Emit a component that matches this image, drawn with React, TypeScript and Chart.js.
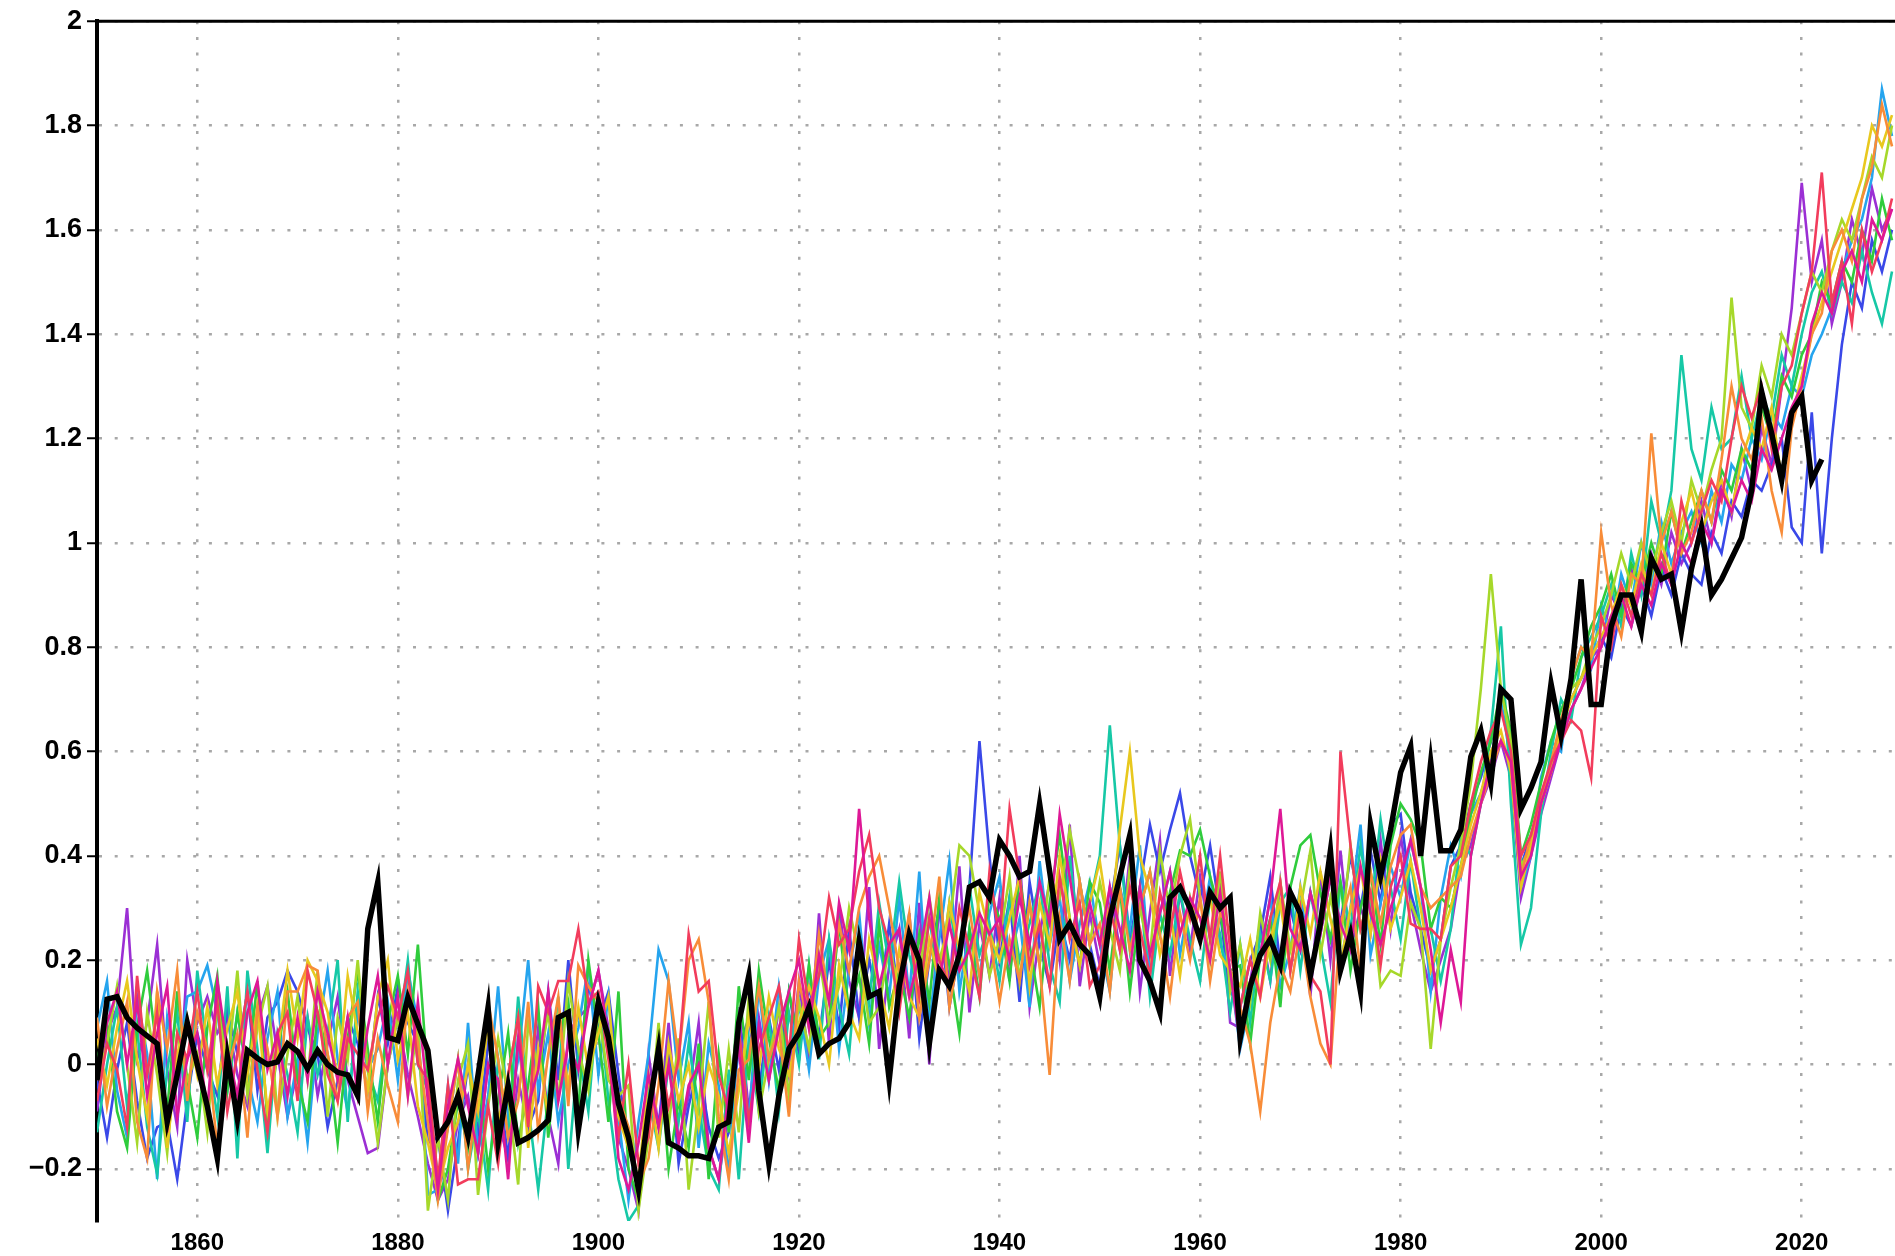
import React, { useEffect, useRef } from "react";
import { Chart, registerables } from "chart.js";

Chart.register(...registerables);

const startYear = 1850;

const xTicks = [1860, 1880, 1900, 1920, 1940, 1960, 1980, 2000, 2020];
const xTickLabels = ["1860", "1880", "1900", "1920", "1940", "1960", "1980", "2000", "2020"];
const yTicks = [-0.2, 0, 0.2, 0.4, 0.6, 0.8, 1, 1.2, 1.4, 1.6, 1.8, 2];
const yTickLabels = ["\u22120.2", "0", "0.2", "0.4", "0.6", "0.8", "1", "1.2", "1.4", "1.6", "1.8", "2"];

// observations 1850-2022
const observed = [
  -0.03, 0.125, 0.13, 0.09, 0.07, 0.055, 0.04, -0.11, -0.02, 0.08,
  0.0, -0.08, -0.18, 0.015, -0.105, 0.027, 0.012, 0.0, 0.005, 0.04,
  0.025, -0.008, 0.027, 0.0, -0.015, -0.02, -0.06, 0.26, 0.35, 0.052,
  0.046, 0.128, 0.077, 0.027, -0.138, -0.11, -0.06, -0.138, -0.02, 0.11,
  -0.15, -0.04, -0.15, -0.14, -0.126, -0.107, 0.09, 0.1, -0.126, 0.0,
  0.12, 0.052, -0.075, -0.14, -0.24, -0.09, 0.03, -0.15, -0.16, -0.175,
  -0.175, -0.18, -0.12, -0.11, 0.08, 0.17, -0.05, -0.19, -0.06, 0.03,
  0.06, 0.11, 0.02, 0.04, 0.05, 0.08, 0.235, 0.13, 0.14, -0.03,
  0.15, 0.25, 0.2, 0.04, 0.18, 0.15, 0.21, 0.34, 0.35, 0.32,
  0.43, 0.4, 0.36, 0.37, 0.5, 0.37, 0.24, 0.27, 0.23, 0.21,
  0.13, 0.28, 0.36, 0.44, 0.2, 0.16, 0.1, 0.32, 0.34, 0.3,
  0.24, 0.33, 0.3, 0.32, 0.05, 0.15, 0.21, 0.24, 0.19, 0.33,
  0.29, 0.17, 0.27, 0.41, 0.18, 0.25, 0.14, 0.46, 0.36, 0.45,
  0.56, 0.61, 0.4, 0.58, 0.41, 0.41, 0.45, 0.59, 0.64, 0.54,
  0.72, 0.7, 0.49, 0.53, 0.58, 0.73, 0.63, 0.74, 0.93, 0.69,
  0.69, 0.84, 0.9, 0.9, 0.83, 0.97, 0.93, 0.94, 0.83, 0.95,
  1.03, 0.9, 0.93, 0.97, 1.01, 1.1, 1.29, 1.21, 1.12, 1.25,
  1.28, 1.12, 1.16,
];

// ensemble members 1850-2029
const memberPurple = [
  -0.09, 0.06, 0.11, 0.3, 0.01, 0.08, 0.23, -0.01, -0.12, 0.2,
  0.08, 0.13, 0.06, 0.09, -0.02, -0.08, 0.09, 0.15, 0.02, -0.1,
  -0.01, 0.09, -0.06, 0.04, 0.13, -0.03, -0.1, -0.17, -0.16, 0.0,
  0.09, -0.02, -0.1, -0.19, -0.26, -0.22, -0.11, -0.06, -0.17, 0.0,
  -0.11, -0.18, -0.03, -0.12, 0.07, -0.1, -0.19, 0.06, 0.09, 0.11,
  0.18, 0.07, -0.14, -0.2, -0.28, 0.02, -0.12, 0.08, -0.15, -0.06,
  0.08, -0.16, -0.22, -0.09, 0.11, -0.09, 0.09, -0.03, 0.11, -0.02,
  0.16, 0.01, 0.29, 0.04, 0.3, 0.16, 0.09, 0.34, 0.03, 0.19,
  0.26, 0.05, 0.31, 0.0, 0.32, 0.15, 0.38, 0.1, 0.27, 0.17,
  0.32, 0.16, 0.4, 0.11, 0.25, 0.35, 0.2, 0.46, 0.15, 0.29,
  0.19, 0.34, 0.22, 0.4, 0.14, 0.29, 0.43, 0.17, 0.33, 0.22,
  0.36, 0.24, 0.33, 0.08, 0.07, 0.16, 0.27, 0.16, 0.35, 0.18,
  0.3, 0.13, 0.37, 0.2, 0.41, 0.22, 0.3, 0.25, 0.43, 0.26,
  0.44, 0.31, 0.22, 0.14, 0.2, 0.26, 0.38, 0.42, 0.5, 0.55,
  0.62, 0.55, 0.32, 0.4, 0.48, 0.55, 0.62, 0.68, 0.72, 0.78,
  0.8, 0.9, 0.86, 0.95, 0.9, 0.98, 0.92, 1.02, 0.96, 1.0,
  1.08, 1.0, 1.12, 1.05, 1.18, 1.1, 1.22, 1.15, 1.3, 1.45,
  1.69, 1.5, 1.58, 1.42, 1.5, 1.62, 1.55, 1.68, 1.6, 1.64,
];
const memberBlue = [
  -0.03, -0.14, -0.01, 0.08, -0.07, -0.18, -0.12, -0.11, -0.22, -0.07,
  0.06, -0.01, -0.06, 0.11, 0.02, 0.14, -0.05, 0.09, 0.12, 0.18,
  0.14, 0.07, 0.02, -0.12, -0.03, 0.09, 0.04, -0.05, 0.13, 0.04,
  0.15, 0.08, 0.04, -0.15, -0.14, -0.28, -0.15, 0.0, -0.13, 0.04,
  -0.03, -0.18, 0.05, -0.12, -0.07, 0.14, -0.03, 0.2, -0.01, 0.15,
  0.08, 0.14, -0.02, -0.16, -0.23, -0.04, -0.12, 0.04, -0.19, -0.08,
  0.0, -0.12, -0.18, -0.13, 0.03, 0.09, -0.05, 0.09, -0.01, 0.14,
  0.02, 0.15, 0.05, 0.2, 0.07, 0.26, 0.09, 0.2, 0.11, 0.27,
  0.12, 0.29, 0.05, 0.2, 0.3, 0.11, 0.22, 0.34, 0.62, 0.4,
  0.2, 0.32, 0.12, 0.35, 0.23, 0.15, 0.28, 0.2, 0.35, 0.23,
  0.15, 0.3, 0.42, 0.24, 0.34, 0.46, 0.37, 0.45, 0.52, 0.4,
  0.32, 0.42, 0.29, 0.14, 0.11, 0.2, 0.25, 0.36, 0.19, 0.3,
  0.22, 0.33, 0.25, 0.36, 0.27, 0.4, 0.3, 0.41, 0.31, 0.46,
  0.48, 0.33, 0.26, 0.18, 0.24, 0.38, 0.42, 0.5, 0.55, 0.62,
  0.68, 0.62, 0.38, 0.44, 0.5, 0.58, 0.65, 0.7, 0.74, 0.78,
  0.82, 0.78, 0.88, 0.84, 0.92, 0.86, 0.95, 0.9, 0.98, 0.94,
  0.92, 1.02, 0.98, 1.08, 1.05, 1.12, 1.1, 1.15, 1.2, 1.03,
  1.0, 1.25, 0.98, 1.2, 1.38, 1.5, 1.45, 1.58, 1.52, 1.6,
];
const memberSky = [
  0.07, 0.16, -0.05, -0.14, 0.13, 0.02, -0.22, 0.09, -0.02, 0.13,
  0.14, 0.19, 0.1, -0.05, 0.1, -0.02, -0.11, 0.05, 0.14, -0.1,
  0.01, -0.15, 0.06, 0.18, 0.01, -0.09, 0.1, -0.01, 0.03, 0.12,
  -0.03, 0.18, 0.08, -0.25, -0.24, -0.04, -0.19, 0.08, -0.17, -0.06,
  0.15, -0.1, 0.01, 0.2, -0.05, 0.06, -0.11, 0.0, 0.07, 0.19,
  -0.02, 0.13, -0.1, -0.26, -0.11, 0.02, 0.22, 0.16, -0.03, 0.08,
  -0.16, 0.04, -0.04, -0.21, 0.07, -0.11, 0.15, -0.03, 0.15, 0.02,
  0.12, -0.01, 0.17, 0.24, 0.03, 0.18, 0.29, 0.08, 0.23, 0.13,
  0.32, 0.13, 0.37, 0.08, 0.24, 0.39, 0.14, 0.26, 0.17, 0.29,
  0.36, 0.2, 0.28, 0.11, 0.39, 0.23, 0.32, 0.16, 0.27, 0.35,
  0.23, 0.14, 0.34, 0.26, 0.42, 0.17, 0.29, 0.37, 0.21, 0.32,
  0.24, 0.36, 0.23, 0.18, 0.03, 0.12, 0.21, 0.32, 0.15, 0.22,
  0.34, 0.17, 0.29, 0.4, 0.19, 0.3, 0.46, 0.21, 0.31, 0.38,
  0.32, 0.43, 0.34, 0.14, 0.32, 0.42, 0.36, 0.48, 0.52, 0.58,
  0.7, 0.58, 0.34, 0.4, 0.55, 0.62, 0.6, 0.74, 0.8, 0.76,
  0.88, 0.82, 0.94, 0.88, 1.0, 0.92, 1.04, 0.96, 1.02, 1.06,
  1.0, 1.1, 1.04, 1.15, 1.12, 1.2, 1.16, 1.25, 1.22, 1.3,
  1.28, 1.36, 1.4, 1.45, 1.52, 1.58, 1.62, 1.7, 1.87, 1.78,
];
const memberTurquoise = [
  -0.13, 0.0, 0.11, -0.08, 0.07, -0.12, -0.21, -0.01, 0.1, -0.11,
  0.18, 0.03, -0.1, 0.15, -0.18, 0.18, 0.03, -0.17, 0.06, -0.02,
  -0.13, 0.09, -0.02, 0.06, 0.2, -0.11, 0.14, -0.01, -0.07, 0.08,
  0.05, 0.2, 0.0, -0.05, -0.22, -0.12, 0.01, -0.2, -0.09, -0.24,
  0.01, -0.14, 0.13, -0.08, -0.24, -0.06, 0.13, -0.2, 0.03, -0.09,
  0.14, -0.07, -0.22, -0.3, -0.27, -0.06, -0.16, 0.0, -0.11, 0.04,
  -0.08, -0.2, -0.24, -0.01, -0.22, 0.05, -0.09, 0.09, -0.09, 0.1,
  0.0, 0.19, 0.01, 0.24, 0.11, 0.02, 0.25, 0.12, 0.31, 0.19,
  0.35, 0.21, 0.13, 0.28, 0.16, 0.31, 0.18, 0.34, 0.21, 0.27,
  0.16, 0.32, 0.2, 0.27, 0.35, 0.19, 0.12, 0.4, 0.23, 0.31,
  0.4, 0.65, 0.42, 0.22, 0.34, 0.13, 0.29, 0.21, 0.33, 0.24,
  0.16, 0.32, 0.25, 0.1, 0.23, 0.08, 0.25, 0.16, 0.31, 0.34,
  0.18, 0.33, 0.23, 0.12, 0.35, 0.26, 0.42, 0.29, 0.47, 0.34,
  0.24, 0.39, 0.26, 0.26, 0.16, 0.26, 0.44, 0.4, 0.5, 0.64,
  0.84, 0.5, 0.23, 0.3, 0.48, 0.6, 0.7, 0.66, 0.78, 0.82,
  0.86, 0.92, 0.84, 0.98, 0.9, 1.08, 1.0, 1.1, 1.36, 1.18,
  1.12, 1.26, 1.18, 1.2, 1.32, 1.2, 1.28, 1.24, 1.36, 1.3,
  1.4, 1.48, 1.52, 1.44, 1.5, 1.46, 1.56, 1.48, 1.42, 1.52,
];
const memberGreen = [
  0.01, 0.08, -0.09, -0.16, 0.07, 0.18, 0.02, -0.09, 0.14, -0.03,
  -0.14, 0.07, 0.17, -0.05, 0.1, -0.02, 0.16, -0.11, 0.02, 0.14,
  -0.03, -0.11, 0.1, 0.02, -0.15, 0.05, 0.18, 0.03, -0.11, 0.08,
  0.17, 0.02, 0.23, -0.03, -0.26, -0.2, -0.07, -0.16, -0.01, -0.2,
  -0.07, 0.06, -0.15, -0.04, 0.11, -0.14, 0.05, 0.12, -0.09, 0.2,
  0.06, -0.11, 0.14, -0.2, -0.26, -0.1, 0.04, -0.2, -0.07, -0.16,
  0.04, -0.22, 0.02, -0.13, 0.15, -0.03, 0.18, 0.05, -0.05, 0.14,
  0.04, 0.19, 0.05, 0.08, 0.27, 0.1, 0.17, 0.04, 0.27, 0.11,
  0.18, 0.09, 0.25, 0.12, 0.32, 0.19, 0.06, 0.26, 0.13, 0.33,
  0.28, 0.16, 0.36, 0.23, 0.11, 0.31, 0.44, 0.28, 0.19, 0.35,
  0.31, 0.18, 0.34, 0.14, 0.3, 0.37, 0.25, 0.33, 0.41, 0.4,
  0.45, 0.36, 0.29, 0.18, 0.19, 0.04, 0.21, 0.28, 0.11, 0.34,
  0.42, 0.44, 0.33, 0.24, 0.35, 0.18, 0.3, 0.37, 0.23, 0.42,
  0.5, 0.47, 0.42, 0.26, 0.32, 0.3, 0.38, 0.48, 0.56, 0.62,
  0.72, 0.64, 0.4, 0.46, 0.54, 0.62, 0.68, 0.72, 0.78, 0.84,
  0.88, 0.94, 0.86, 0.96, 0.92, 1.0, 0.94, 1.06, 0.98, 1.04,
  1.1, 1.04, 1.14, 1.1, 1.18, 1.14, 1.26, 1.2, 1.32, 1.28,
  1.36, 1.4, 1.5, 1.46, 1.54, 1.5, 1.6, 1.54, 1.66, 1.58,
];
const memberLime = [
  -0.03, 0.04, 0.15, 0.0, -0.15, 0.1, -0.02, -0.17, 0.06, -0.03,
  0.02, -0.13, 0.12, -0.01, 0.18, -0.06, 0.07, 0.15, -0.1, 0.02,
  0.13, -0.03, 0.18, -0.1, 0.09, 0.01, 0.2, -0.01, -0.15, 0.0,
  0.09, -0.06, 0.08, -0.28, -0.14, -0.26, -0.03, 0.04, -0.25, -0.08,
  0.05, -0.06, -0.23, 0.08, -0.01, 0.1, -0.07, 0.16, 0.03, -0.05,
  0.1, -0.03, -0.06, -0.04, -0.28, -0.14, 0.08, -0.12, 0.05, -0.24,
  -0.08, 0.12, -0.14, 0.03, -0.13, 0.13, -0.09, 0.01, 0.11, -0.06,
  0.12, 0.03, 0.21, 0.08, 0.15, 0.3, 0.21, 0.08, 0.11, 0.23,
  0.14, 0.25, 0.17, 0.32, 0.2, 0.27, 0.42, 0.4, 0.29, 0.17,
  0.24, 0.36, 0.16, 0.31, 0.19, 0.36, 0.32, 0.45, 0.35, 0.23,
  0.35, 0.26, 0.18, 0.38, 0.3, 0.21, 0.41, 0.29, 0.4, 0.47,
  0.32, 0.2, 0.37, 0.14, 0.23, 0.12, 0.29, 0.2, 0.35, 0.22,
  0.3, 0.41, 0.21, 0.32, 0.23, 0.42, 0.26, 0.33, 0.15, 0.18,
  0.17, 0.31, 0.26, 0.03, 0.24, 0.34, 0.42, 0.54, 0.72, 0.94,
  0.72, 0.62, 0.38, 0.42, 0.5, 0.56, 0.64, 0.72, 0.74, 0.8,
  0.84, 0.9, 0.98, 0.92, 1.0, 0.94, 1.02, 1.08, 1.0, 1.12,
  1.06, 1.14, 1.2, 1.47, 1.26, 1.22, 1.34, 1.28, 1.4, 1.36,
  1.44, 1.52, 1.48, 1.56, 1.62, 1.58, 1.66, 1.74, 1.7, 1.8,
];
const memberYellow = [
  0.05, -0.04, 0.07, 0.16, 0.01, -0.1, 0.14, -0.16, 0.02, 0.09,
  -0.02, 0.11, -0.04, 0.07, 0.14, -0.02, 0.11, -0.09, 0.02, 0.18,
  0.05, 0.2, 0.16, 0.1, -0.03, 0.17, 0.06, -0.05, 0.13, 0.2,
  0.01, 0.1, -0.08, -0.15, -0.24, -0.16, -0.11, 0.0, -0.09, 0.08,
  -0.11, -0.02, 0.09, -0.16, 0.03, -0.1, 0.09, -0.04, 0.11, -0.01,
  0.06, 0.13, -0.1, -0.16, -0.22, -0.02, -0.16, 0.04, -0.07, 0.0,
  -0.12, 0.0, -0.06, -0.17, -0.05, 0.09, -0.01, 0.13, 0.03, -0.02,
  0.08, 0.15, 0.09, 0.0, 0.19, 0.1, 0.05, 0.24, 0.15, 0.07,
  0.22, 0.13, 0.09, 0.24, 0.16, 0.31, 0.22, 0.14, 0.33, 0.25,
  0.2, 0.28, 0.36, 0.15, 0.31, 0.23, 0.4, 0.28, 0.19, 0.31,
  0.39, 0.26, 0.45, 0.6, 0.4, 0.33, 0.21, 0.29, 0.17, 0.32,
  0.24, 0.32, 0.21, 0.18, 0.15, 0.24, 0.13, 0.24, 0.31, 0.18,
  0.34, 0.25, 0.37, 0.28, 0.19, 0.3, 0.38, 0.25, 0.39, 0.26,
  0.32, 0.39, 0.3, 0.18, 0.24, 0.3, 0.38, 0.46, 0.52, 0.6,
  0.64, 0.56, 0.34, 0.42, 0.5, 0.56, 0.64, 0.7, 0.74, 0.78,
  0.82, 0.86, 0.92, 0.88, 0.96, 0.9, 1.0, 0.94, 1.04, 1.1,
  1.02, 1.08, 1.12, 1.06, 1.16, 1.22, 1.18, 1.26, 1.12, 1.24,
  1.32, 1.4, 1.46, 1.52, 1.58, 1.64, 1.7, 1.8, 1.76, 1.82,
];
const memberOrange = [
  0.09, -0.08, 0.03, 0.12, -0.11, -0.18, 0.14, 0.03, 0.18, -0.07,
  0.1, 0.03, -0.16, -0.01, 0.06, -0.14, 0.11, 0.03, -0.1, 0.14,
  0.14, 0.19, 0.18, 0.02, -0.07, 0.09, 0.12, -0.09, 0.05, -0.04,
  -0.11, 0.14, 0.04, -0.11, -0.26, -0.12, 0.01, -0.2, -0.05, 0.12,
  0.01, -0.14, -0.07, 0.12, -0.13, 0.02, 0.13, -0.08, 0.19, 0.15,
  0.12, 0.05, -0.06, -0.12, -0.23, -0.18, -0.04, 0.16, 0.01, 0.2,
  0.24, 0.12, -0.1, -0.22, -0.01, 0.01, 0.15, 0.01, 0.07, -0.1,
  0.16, 0.07, 0.25, 0.12, 0.27, 0.18, 0.3, 0.36, 0.4, 0.3,
  0.18, 0.29, 0.09, 0.2, 0.36, 0.11, 0.22, 0.3, 0.17, 0.25,
  0.12, 0.24, 0.16, 0.31, 0.19, -0.02, 0.28, 0.16, 0.35, 0.23,
  0.27, 0.14, 0.34, 0.22, 0.3, 0.37, 0.25, 0.13, 0.29, 0.2,
  0.32, 0.16, 0.29, 0.26, 0.11, 0.04, -0.09, 0.08, 0.19, 0.14,
  0.26, 0.13, 0.04, 0.0, 0.27, 0.34, 0.18, 0.37, 0.27, 0.38,
  0.44, 0.46, 0.34, 0.3, 0.32, 0.34, 0.36, 0.44, 0.5, 0.56,
  0.62, 0.58, 0.36, 0.44, 0.5, 0.58, 0.66, 0.74, 0.8, 0.78,
  1.02, 0.88, 0.82, 0.94, 0.92, 1.21, 1.0, 1.06, 0.98, 1.02,
  1.1, 1.04, 1.16, 1.3, 1.2, 1.16, 1.24, 1.1, 1.02, 1.22,
  1.3, 1.4, 1.44, 1.56, 1.6, 1.54, 1.66, 1.72, 1.84, 1.76,
];
const memberRed = [
  -0.07, 0.04, -0.01, -0.12, 0.17, -0.02, 0.1, -0.13, 0.06, 0.01,
  0.14, -0.01, 0.12, -0.09, 0.02, 0.14, -0.01, -0.13, 0.06, 0.1,
  -0.07, 0.18, 0.1, -0.02, -0.07, 0.05, 0.02, -0.01, 0.09, 0.15,
  0.09, 0.18, 0.0, -0.03, -0.22, -0.04, -0.23, -0.22, -0.22, -0.08,
  -0.19, -0.02, 0.09, -0.12, 0.15, 0.1, 0.16, 0.16, 0.26, 0.12,
  0.14, 0.01, -0.14, 0.0, -0.19, -0.14, 0.04, -0.08, 0.01, 0.25,
  0.14, 0.16, -0.02, -0.09, 0.07, -0.11, 0.03, 0.09, 0.15, 0.02,
  0.24, 0.11, 0.17, 0.32, 0.23, 0.26, 0.37, 0.44, 0.3, 0.23,
  0.1, 0.25, 0.13, 0.28, 0.2, 0.15, 0.3, 0.22, 0.13, 0.37,
  0.24, 0.49, 0.36, 0.19, 0.27, 0.15, 0.36, 0.24, 0.31, 0.15,
  0.19, 0.3, 0.22, 0.34, 0.26, 0.17, 0.33, 0.25, 0.37, 0.28,
  0.4, 0.24, 0.4, 0.22, 0.11, 0.2, 0.13, 0.28, 0.35, 0.18,
  0.3, 0.17, 0.14, 0.0, 0.6, 0.42, 0.26, 0.33, 0.19, 0.34,
  0.4, 0.27, 0.26, 0.26, 0.24, 0.38, 0.4, 0.5, 0.58, 0.64,
  0.68, 0.6, 0.4, 0.44, 0.52, 0.58, 0.62, 0.66, 0.64, 0.55,
  0.86, 0.8, 0.92, 0.86, 0.94, 0.9, 0.98, 0.92, 1.08, 1.0,
  1.06, 1.12, 1.08, 1.2, 1.3, 1.24, 1.3, 1.18, 1.3, 1.34,
  1.44, 1.52, 1.71, 1.46, 1.54, 1.42, 1.6, 1.52, 1.58, 1.66,
];
const memberMagenta = [
  -0.03, 0.08, 0.14, 0.0, 0.12, -0.06, 0.06, 0.15, -0.1, 0.01,
  0.06, -0.09, 0.16, 0.03, -0.06, 0.1, 0.16, -0.01, 0.06, -0.06,
  0.09, -0.03, 0.14, 0.06, -0.03, 0.09, -0.06, 0.07, 0.17, 0.0,
  0.13, -0.06, 0.12, -0.07, -0.24, -0.08, 0.01, -0.08, -0.17, 0.0,
  -0.03, -0.22, 0.05, -0.08, -0.01, 0.14, -0.07, 0.04, -0.01, 0.11,
  0.18, 0.05, -0.18, -0.24, -0.15, -0.02, -0.12, 0.0, -0.15, -0.04,
  0.0, -0.16, -0.22, -0.05, 0.03, -0.15, 0.07, -0.03, 0.07, 0.14,
  0.2, 0.07, 0.21, 0.12, 0.31, 0.22, 0.49, 0.28, 0.15, 0.23,
  0.26, 0.13, 0.21, 0.32, 0.16, 0.27, 0.18, 0.22, 0.29, 0.25,
  0.28, 0.2, 0.32, 0.23, 0.35, 0.27, 0.48, 0.36, 0.23, 0.31,
  0.23, 0.34, 0.26, 0.18, 0.34, 0.21, 0.29, 0.37, 0.25, 0.32,
  0.28, 0.2, 0.33, 0.18, 0.04, 0.16, 0.21, 0.32, 0.49, 0.26,
  0.22, 0.33, 0.25, 0.36, 0.27, 0.22, 0.38, 0.29, 0.23, 0.3,
  0.36, 0.43, 0.34, 0.22, 0.08, 0.22, 0.12, 0.4, 0.5, 0.58,
  0.62, 0.58, 0.36, 0.4, 0.5, 0.56, 0.62, 0.68, 0.72, 0.76,
  0.8, 0.86, 0.9, 0.84, 0.92, 0.88, 0.96, 0.92, 1.0, 0.96,
  1.04, 1.0, 1.1, 1.06, 1.12, 1.08, 1.18, 1.14, 1.2, 1.26,
  1.3, 1.42, 1.48, 1.44, 1.52, 1.56, 1.5, 1.62, 1.58, 1.64,
];

const members = [
  { name: "purple", color: "#9b2fd4", values: memberPurple },
  { name: "blue", color: "#3a48e8", values: memberBlue },
  { name: "sky", color: "#25a4ee", values: memberSky },
  { name: "turquoise", color: "#16c8a6", values: memberTurquoise },
  { name: "green", color: "#2fcc3c", values: memberGreen },
  { name: "lime", color: "#a6d82a", values: memberLime },
  { name: "yellow", color: "#e8c81e", values: memberYellow },
  { name: "orange", color: "#f88c38", values: memberOrange },
  { name: "red", color: "#f23c5c", values: memberRed },
  { name: "magenta", color: "#de1896", values: memberMagenta },
];

const toPoints = (vals: number[]) => vals.map((v, i) => ({ x: startYear + i, y: v }));

const topBorder = {
  id: "topBorder",
  afterDraw(chart: any) {
    const { ctx, chartArea } = chart;
    ctx.save();
    ctx.strokeStyle = "#000";
    ctx.lineWidth = 3;
    ctx.beginPath();
    ctx.moveTo(chartArea.left - 2, chartArea.top);
    ctx.lineTo(chartArea.right, chartArea.top);
    ctx.stroke();
    ctx.restore();
  },
};

export default function App() {
  const ref = useRef<HTMLCanvasElement | null>(null);
  useEffect(() => {
    document.body.style.margin = "0";
    const canvas = ref.current;
    if (!canvas) return;
    const family = "'Liberation Sans', Arial, sans-serif";
    const datasets: any[] = [
      {
        label: "observed",
        data: toPoints(observed),
        borderColor: "#000",
        borderWidth: 5.5,
        pointRadius: 0,
        tension: 0,
        order: 0,
      },
      ...members.map((m, k) => ({
        label: m.name,
        data: toPoints(m.values),
        borderColor: m.color,
        borderWidth: 2.6,
        pointRadius: 0,
        tension: 0,
        order: 1 + (members.length - k),
      })),
    ];
    const chart = new Chart(canvas, {
      type: "line",
      data: { datasets },
      options: {
        animation: false,
        responsive: false,
        devicePixelRatio: 1,
        layout: { padding: { top: 15, right: 0, left: 0, bottom: 0 } },
        plugins: { legend: { display: false }, tooltip: { enabled: false } },
        scales: {
          x: {
            type: "linear",
            min: 1850,
            max: 2029.3,
            afterBuildTicks: (s: any) => {
              s.ticks = xTicks.map((v) => ({ value: v }));
            },
            afterFit: (s: any) => {
              s.height = 35;
            },
            ticks: {
              color: "#000",
              font: { family, size: 24, weight: "bold" },
              padding: 8,
              maxRotation: 0,
              autoSkip: false,
              callback: (_v: any, i: number) => xTickLabels[i],
            },
            grid: {
              color: "#a8a8a8",
              lineWidth: 2.5,
              drawTicks: false,
              tickLength: 0,
            },
            border: { display: false, dash: [3, 12.7] },
          },
          y: {
            type: "linear",
            min: -0.3,
            max: 2,
            afterBuildTicks: (s: any) => {
              s.ticks = yTicks.map((v) => ({ value: v }));
            },
            afterFit: (s: any) => {
              s.width = 97;
            },
            ticks: {
              color: "#000",
              font: { family, size: 27, weight: "bold" },
              padding: 5,
              autoSkip: false,
              callback: (_v: any, i: number) => yTickLabels[i],
            },
            grid: {
              color: "#a8a8a8",
              lineWidth: 2.5,
              drawTicks: true,
              tickLength: 10,
              tickColor: "#000",
              tickWidth: 2,
              tickBorderDash: [],
            },
            border: { display: true, color: "#000", width: 4, dash: [3, 12.7] },
          },
        },
      },
      plugins: [topBorder],
    });
    return () => chart.destroy();
  }, []);
  return <canvas ref={ref} width={1895} height={1256} style={{ width: 1895, height: 1256, display: "block" }} />;
}
